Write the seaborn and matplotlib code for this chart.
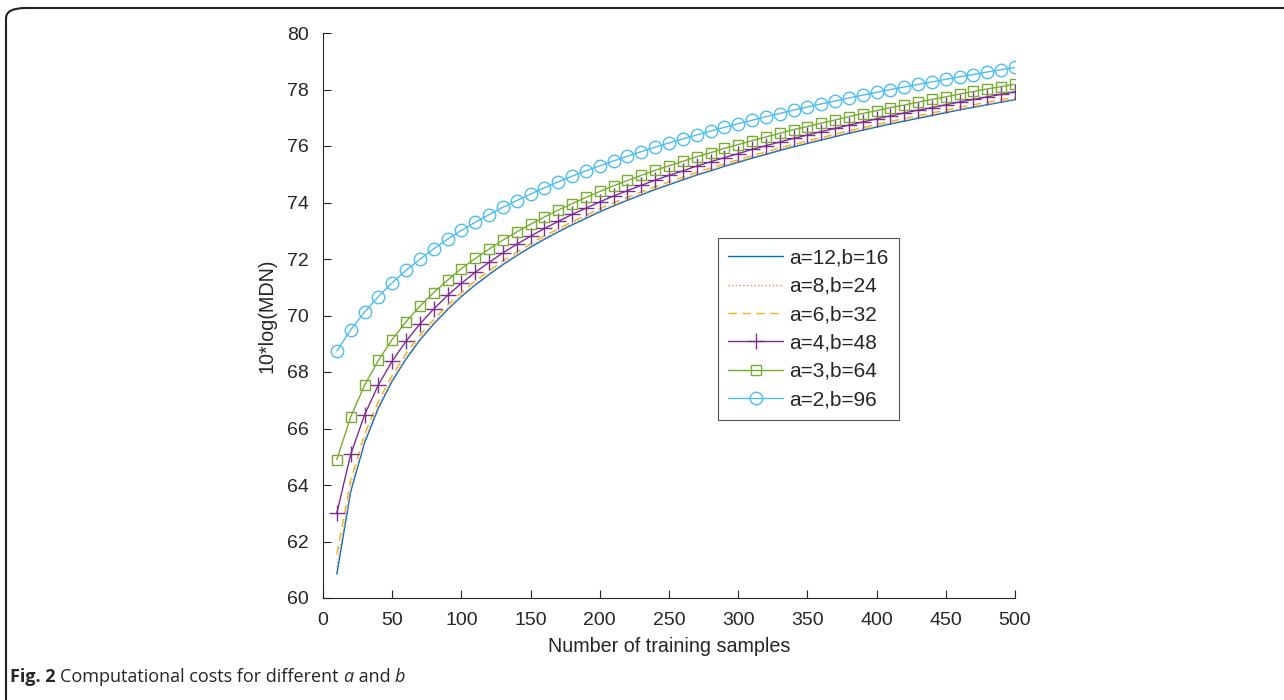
import matplotlib
matplotlib.use("Agg")
import matplotlib.pyplot as plt
import seaborn as sns
import pandas as pd
from matplotlib.patches import FancyBboxPatch

samples = list(range(10, 501, 10))

labels = ["a=12,b=16", "a=8,b=24", "a=6,b=32", "a=4,b=48", "a=3,b=64", "a=2,b=96"]

a12_b16 = [60.85, 63.76, 65.49, 66.72, 67.68, 68.46, 69.13, 69.70, 70.21, 70.67,
           71.08, 71.45, 71.80, 72.12, 72.42, 72.70, 72.96, 73.21, 73.44, 73.67,
           73.88, 74.08, 74.27, 74.46, 74.63, 74.80, 74.97, 75.12, 75.28, 75.42,
           75.57, 75.70, 75.84, 75.97, 76.09, 76.21, 76.33, 76.45, 76.56, 76.67,
           76.78, 76.88, 76.98, 77.08, 77.18, 77.28, 77.37, 77.46, 77.55, 77.64]
a8_b24 = [61.09, 63.89, 65.59, 66.80, 67.75, 68.52, 69.18, 69.75, 70.25, 70.71,
          71.12, 71.49, 71.84, 72.16, 72.46, 72.74, 73.00, 73.25, 73.48, 73.70,
          73.91, 74.11, 74.30, 74.49, 74.66, 74.83, 75.00, 75.15, 75.31, 75.45,
          75.60, 75.73, 75.87, 76.00, 76.12, 76.24, 76.36, 76.48, 76.59, 76.70,
          76.81, 76.91, 77.01, 77.11, 77.21, 77.30, 77.39, 77.48, 77.57, 77.66]
a6_b32 = [61.55, 64.17, 65.79, 66.96, 67.89, 68.65, 69.30, 69.86, 70.36, 70.81,
          71.22, 71.58, 71.93, 72.24, 72.54, 72.82, 73.07, 73.32, 73.55, 73.78,
          73.99, 74.18, 74.37, 74.56, 74.73, 74.90, 75.07, 75.22, 75.37, 75.51,
          75.66, 75.79, 75.93, 76.06, 76.18, 76.30, 76.42, 76.54, 76.65, 76.76,
          76.87, 76.97, 77.07, 77.17, 77.27, 77.37, 77.46, 77.55, 77.64, 77.72]
a4_b48 = [63.01, 65.08, 66.48, 67.54, 68.39, 69.09, 69.70, 70.23, 70.71, 71.14,
          71.53, 71.88, 72.22, 72.52, 72.81, 73.08, 73.33, 73.58, 73.80, 74.02,
          74.23, 74.42, 74.61, 74.79, 74.96, 75.12, 75.29, 75.44, 75.59, 75.73,
          75.88, 76.01, 76.14, 76.27, 76.39, 76.51, 76.62, 76.74, 76.85, 76.96,
          77.07, 77.17, 77.27, 77.36, 77.46, 77.56, 77.65, 77.74, 77.83, 77.92]
a3_b64 = [64.90, 66.41, 67.53, 68.41, 69.15, 69.78, 70.33, 70.81, 71.25, 71.66,
          72.02, 72.35, 72.67, 72.96, 73.23, 73.49, 73.73, 73.96, 74.18, 74.39,
          74.59, 74.78, 74.96, 75.14, 75.30, 75.46, 75.62, 75.76, 75.92, 76.05,
          76.19, 76.32, 76.45, 76.58, 76.69, 76.81, 76.92, 77.04, 77.15, 77.25,
          77.36, 77.45, 77.55, 77.65, 77.74, 77.84, 77.93, 78.02, 78.10, 78.19]
a2_b96 = [68.75, 69.49, 70.12, 70.67, 71.16, 71.60, 71.99, 72.36, 72.70, 73.01,
          73.30, 73.57, 73.83, 74.07, 74.30, 74.52, 74.73, 74.93, 75.12, 75.30,
          75.47, 75.64, 75.80, 75.96, 76.11, 76.25, 76.39, 76.53, 76.66, 76.79,
          76.91, 77.04, 77.15, 77.27, 77.38, 77.49, 77.59, 77.70, 77.80, 77.90,
          78.00, 78.09, 78.18, 78.27, 78.36, 78.45, 78.53, 78.62, 78.70, 78.78]

x_ticks = [0, 50, 100, 150, 200, 250, 300, 350, 400, 450, 500]
y_ticks = [60, 62, 64, 66, 68, 70, 72, 74, 76, 78, 80]

series = [a12_b16, a8_b24, a6_b32, a4_b48, a3_b64, a2_b96]
colors = ["#0072BD", "#EE8A66", "#EDB120", "#7E2F8E", "#77AC30", "#4DBEEE"]
styles = [
    dict(linestyle="-", marker=None),
    dict(linestyle=":", marker=None),
    dict(linestyle=(0, (6, 4)), marker=None),
    dict(linestyle="-", marker="+", markersize=11, markeredgewidth=1.0),
    dict(linestyle="-", marker="s", markersize=7, markeredgewidth=1.0, markerfacecolor="none"),
    dict(linestyle="-", marker="o", markersize=9, markeredgewidth=1.0, markerfacecolor="none"),
]

sns.set_theme(style="ticks")
plt.rcParams["font.family"] = ["Liberation Sans", "DejaVu Sans"]

fig = plt.figure(figsize=(12.84, 7.0), dpi=100)
ax = fig.add_axes([323 / 1284, 1 - 598 / 700, (1015 - 323) / 1284, (598 - 33) / 700])

for vals, lab, col, st in zip(series, labels, colors, styles):
    df = pd.DataFrame({"n": samples, "v": vals})
    sns.lineplot(data=df, x="n", y="v", ax=ax, color=col, label=lab, linewidth=1.0,
                 markeredgecolor=col, **st)

ax.set_xlim(0, 500)
ax.set_ylim(60, 80)
ax.set_xticks(x_ticks)
ax.set_yticks(y_ticks)
ax.tick_params(direction="in", length=6, width=0.8, colors="#262626", labelsize=14, pad=10)
for s in ["top", "right"]:
    ax.spines[s].set_visible(False)
for s in ["left", "bottom"]:
    ax.spines[s].set_color("#262626")
    ax.spines[s].set_linewidth(0.8)
ax.set_xlabel("Number of training samples", fontsize=14.2, color="#262626", labelpad=6)
ax.set_ylabel("10*log(MDN)", fontsize=14.2, color="#262626", labelpad=8)

leg = ax.legend(loc="upper left", bbox_to_anchor=(718 / 1284, 1 - 238 / 700),
                bbox_transform=fig.transFigure, fontsize=15, frameon=True,
                fancybox=False, edgecolor="#262626", handlelength=2.6,
                handletextpad=0.3, borderpad=0.5, labelspacing=0.45,
                borderaxespad=0)
leg.get_frame().set_linewidth(0.8)

# outer panel frame (rounded, open at right/bottom)
frame = FancyBboxPatch((6 / 1284, -10 / 700), 1300 / 1284, (700 - 8 + 10) / 700,
                       boxstyle="round,pad=0,rounding_size=0.015", transform=fig.transFigure,
                       facecolor="none", edgecolor="#222222", linewidth=1.5, clip_on=False)
fig.patches.append(frame)

cap_y = 1 - 677 / 700
fam = ["Open Sans", "DejaVu Sans"]
fig.canvas.draw()
r = fig.canvas.get_renderer()
t0 = fig.text(10 / 1284, cap_y, "Fig. 2 ", fontsize=13, fontweight="bold",
              family=fam, va="center", ha="left")
parts = [("Computational costs for different ", "normal"), ("a", "italic"),
         (" and ", "normal"), ("b", "italic")]
prev = t0
for txt, sty in parts:
    bb = prev.get_window_extent(renderer=r)
    prev = fig.text(bb.x1 / 1284, cap_y, txt, fontsize=13, style=sty,
                    family=fam, va="center", ha="left")

fig.savefig("out.png", dpi=100)
